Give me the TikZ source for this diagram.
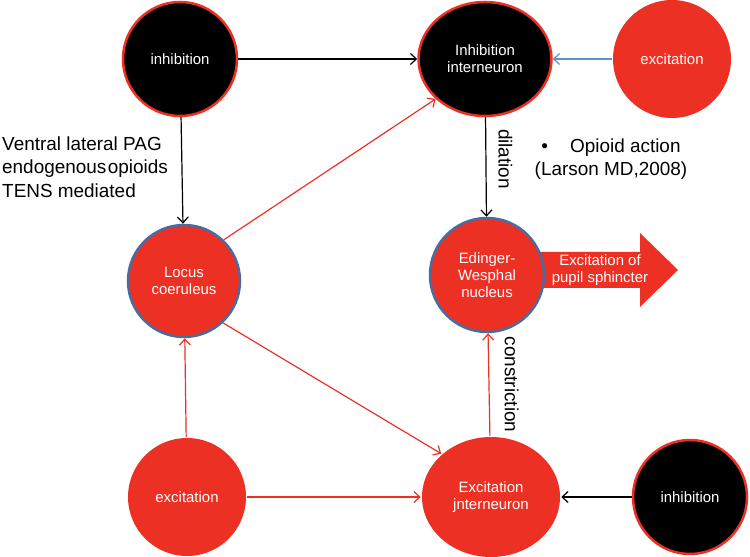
\documentclass[tikz,border=0pt]{standalone}
\usepackage{fontspec}
\setmainfont{Liberation Sans}
\usetikzlibrary{arrows.meta,shapes.geometric}
\definecolor{pptred}{RGB}{236,49,36}
\definecolor{rimblue}{RGB}{72,108,158}
\definecolor{linkblue}{RGB}{96,142,206}

\begin{document}
\begin{tikzpicture}[x=1bp,y=1bp,
  cell/.style={circle, inner sep=0pt, line width=2.5bp, text=white, align=center, font=\fontsize{15}{17}\selectfont},
  blackcell/.style={cell, minimum size=114bp, fill=black, draw=pptred},
  redcell/.style={cell, minimum size=118bp, fill=pptred},
  bluecell/.style={cell, minimum size=112bp, fill=pptred, draw=rimblue},
  oval/.style={ellipse, inner sep=0pt, line width=2.5bp, text=white, align=center, font=\fontsize{15}{17}\selectfont},
  link/.style={line width=1.2bp, -{Straight Barb[length=6bp,width=11bp]}},
  note/.style={font=\fontsize{19}{23.5}\selectfont, inner sep=0pt, text=black}
]
\useasboundingbox (0,0) rectangle (750,557);

% top row
\node[blackcell] (inhTop) at (180,498) {inhibition};
\node[oval, fill=black, draw=pptred, minimum width=133bp, minimum height=114bp] (inhInter) at (485,498) {Inhibition\\interneuron};
\node[redcell] (excTop) at (672,498) {excitation};

% middle row
\node[bluecell] (locus) at (184,276) {Locus\\coeruleus};
\fill[pptred] (530,305) -- (640,305) -- (640,324) -- (678,287) -- (640,250) -- (640,269) -- (530,269) -- cycle;
\node[font=\fontsize{15}{17}\selectfont, text=white, align=center, inner sep=0pt] (sphincter) at (600,287) {Excitation of\\pupil sphincter};
\node[bluecell, minimum size=114bp] (ew) at (487,282) {Edinger-\\Wesphal\\nucleus};

% bottom row
\node[redcell] (excBot) at (187,60) {excitation};
\node[oval, fill=pptred, minimum width=138bp, minimum height=120bp] (excInter) at (491,60) {Excitation\\jnterneuron};
\node[blackcell] (inhBot) at (690,60) {inhibition};

% texts
\node[note, anchor=west, align=left] (pag) at (2,390) {Ventral lateral PAG\\endogenous\kern1.5pt opioids\\TENS mediated};
\node[note, align=center] (opioid) at (611,398) {\textbullet\hspace{22bp}Opioid action\\(Larson MD,2008)};

% connectors
\draw[link] (inhTop) -- (inhInter);
\draw[link, linkblue] (excTop) -- (inhInter);
\draw[link] (inhTop) -- (locus);
\draw[link, pptred] (locus.46) -- (inhInter.219);
\draw[link, pptred] (locus.313) -- (excInter.139);
\draw[link, pptred] (excBot) -- (locus);
\draw[link, pptred] (excBot) -- (excInter);
\draw[link] (inhBot) -- (excInter);
\draw[link] (inhInter) -- (ew) node[note, pos=0.42, rotate=-90, anchor=south, inner sep=12bp] (dil) {dilation};
\draw[link, pptred] (excInter) -- (ew) node[note, midway, rotate=-90, anchor=south, inner sep=15bp] (constr) {constriction};
\end{tikzpicture}
\end{document}
